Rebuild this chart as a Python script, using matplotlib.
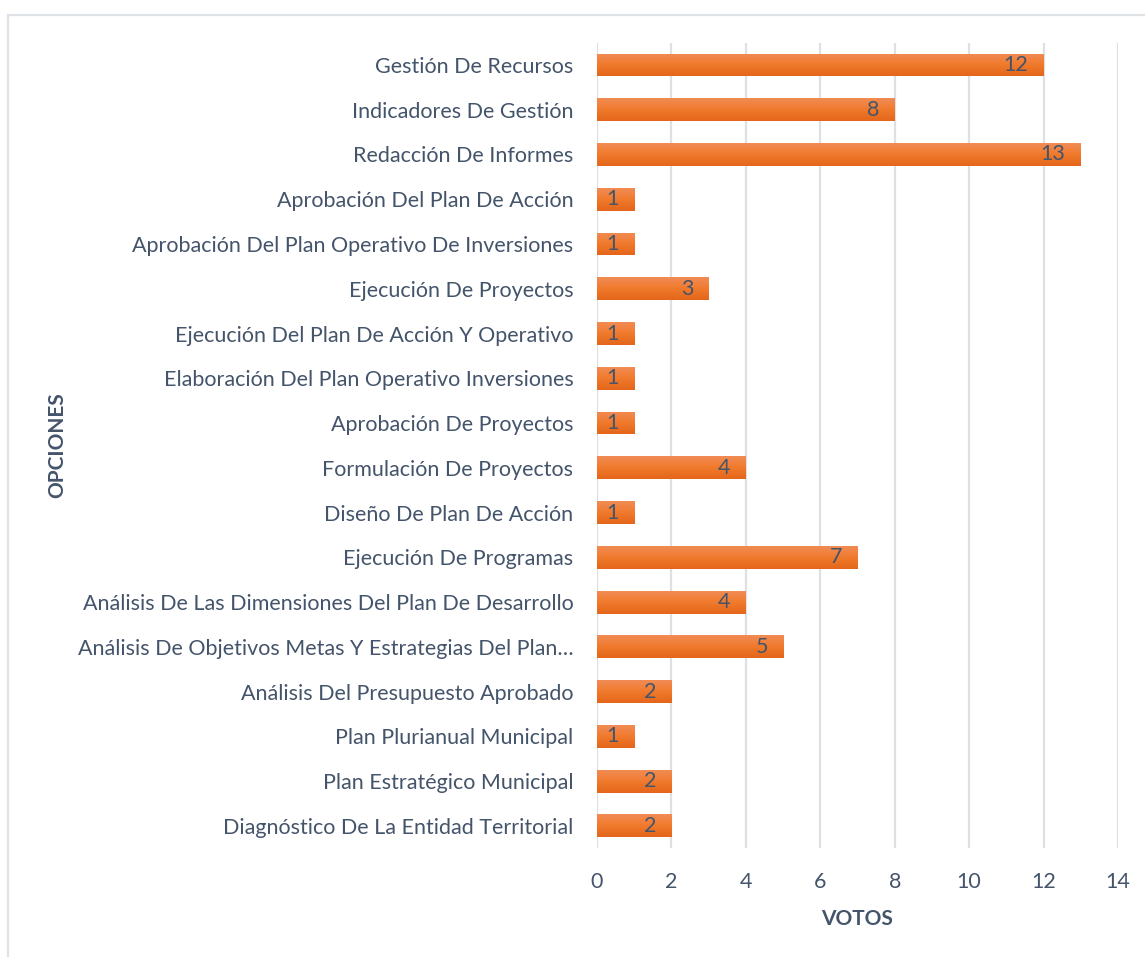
import numpy as np
import matplotlib
matplotlib.use("Agg")
import matplotlib.pyplot as plt
from matplotlib.patches import Rectangle
from matplotlib.colors import LinearSegmentedColormap

# datos (de arriba hacia abajo)
opciones = [
    "Gestión De Recursos",
    "Indicadores De Gestión",
    "Redacción De Informes",
    "Aprobación Del Plan De Acción",
    "Aprobación Del Plan Operativo De Inversiones",
    "Ejecución De Proyectos",
    "Ejecución Del Plan De Acción Y Operativo",
    "Elaboración Del Plan Operativo Inversiones",
    "Aprobación De Proyectos",
    "Formulación De Proyectos",
    "Diseño De Plan De Acción",
    "Ejecución De Programas",
    "Análisis De Las Dimensiones Del Plan De Desarrollo",
    "Análisis De Objetivos Metas Y Estrategias Del Plan…",
    "Análisis Del Presupuesto Aprobado",
    "Plan Plurianual Municipal",
    "Plan Estratégico Municipal",
    "Diagnóstico De La Entidad Territorial",
]
votos = [12, 8, 13, 1, 1, 3, 1, 1, 1, 4, 1, 7, 4, 5, 2, 1, 2, 2]
xticks = [0, 2, 4, 6, 8, 10, 12, 14]

TEXT = "#44546a"
GRID = "#dde1e6"
FS = 15.5

plt.rcParams['font.family'] = ['Lato', 'DejaVu Sans']

fig = plt.figure(figsize=(11.45, 9.57), dpi=100)
ax = fig.add_axes([0.5214, 0.1136, 0.4550, 0.8419])

# marco exterior
fig.patches.append(Rectangle((7.5 / 1145, -0.1), 1.2, 1 - 14.5 / 957 + 0.1,
                             transform=fig.transFigure, fill=False,
                             edgecolor="#dfe3e8", linewidth=1.6, zorder=0))

y = np.arange(len(opciones))
bars = ax.barh(y, votos, height=0.51, color="#ed7d31", zorder=2)

# degradado vertical en cada barra
cmap = LinearSegmentedColormap.from_list("naranja", ["#f18c55", "#f07a2c", "#e4661a"])
grad = np.linspace(0, 1, 64).reshape(-1, 1)
for b in bars:
    x0, y0 = b.get_x(), b.get_y()
    w, h = b.get_width(), b.get_height()
    im = ax.imshow(grad, cmap=cmap, aspect="auto", zorder=3,
                   extent=(x0, x0 + w, y0 + h, y0), interpolation="bicubic")
    im.set_clip_path(b)

for yi, v in zip(y, votos):
    ax.annotate(str(v), xy=(v, yi), xytext=(-11, 0), textcoords="offset points",
                ha="right", va="center", fontsize=FS, color=TEXT, zorder=4)

ax.set_ylim(len(opciones) - 0.5, -0.5)
ax.set_xlim(0, 14)
ax.set_xticks(xticks)
ax.set_xticklabels([str(t) for t in xticks])
ax.set_yticks(y)
ax.set_yticklabels(opciones)
ax.tick_params(axis="both", length=0, labelsize=FS, labelcolor=TEXT)
ax.tick_params(axis="x", pad=17)
ax.tick_params(axis="y", pad=17)
for s in ax.spines.values():
    s.set_visible(False)
ax.grid(axis="x", color=GRID, linewidth=1.6, zorder=0)
ax.set_axisbelow(True)

ax.set_xlabel("VOTOS", fontsize=FS - 0.5, fontweight="bold", color=TEXT, labelpad=12)
fig.text(57 / 1145, 1 - 445 / 957, "OPCIONES", rotation=90, ha="center", va="center",
         fontsize=FS - 0.5, fontweight="bold", color=TEXT)

fig.savefig("out.png", dpi=100)
